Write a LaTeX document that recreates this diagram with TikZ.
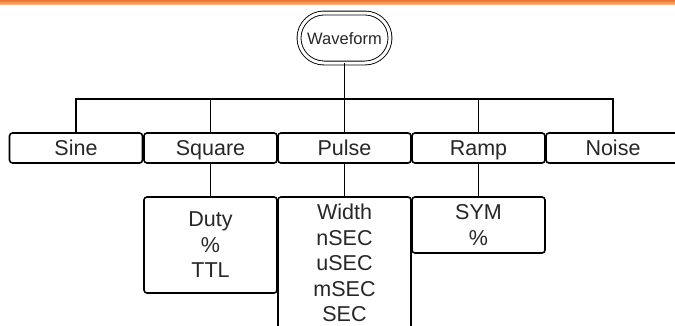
\documentclass[tikz,border=0pt]{standalone}
\usepackage{fontspec}
\setmainfont{Liberation Sans}
\definecolor{barTop}{HTML}{EC7430}
\definecolor{barBot}{HTML}{F8B07A}
\begin{document}
\begin{tikzpicture}[x=1pt,y=-1pt,
  box/.style={draw=black, line width=1.6pt, rounded corners=3pt, minimum width=133pt, inner sep=0pt, font=\fontsize{21.5}{25.5}\selectfont, align=center, text=black!85},
  rowbox/.style={box, minimum height=30pt, text height=16pt, text depth=1pt},
  wire/.style={draw=black, line width=1.6pt},
  pill/.style={draw=black, line width=0.9pt, double=white, double distance=3pt, rounded corners=25pt, minimum width=91pt, minimum height=50pt, inner sep=0pt, text height=12.5pt, text depth=0.5pt, font=\fontsize{16.5}{20}\selectfont, text=black!85}]
\useasboundingbox (0,0) rectangle (675,325);
\clip (0,0) rectangle (675,325);
\shade[top color=barTop, bottom color=barBot] (0,0) rectangle (675,4);
\node[pill] (wf) at (344.5,38) {Waveform};
\node[rowbox] (sine) at (76,148) {Sine};
\node[rowbox] (square) at (210.5,148) {Square};
\node[rowbox] (pulse) at (344.5,148) {Pulse};
\node[rowbox] (ramp) at (478.5,148) {Ramp};
\node[rowbox, minimum width=134pt] (noise) at (613,148) {Noise};
\coordinate (bus) at (344.5,99);
\node[box, minimum height=96pt] (duty) at (210.5,245) {Duty\\\%\\TTL};
\node[box, minimum height=132pt] (width) at (344.5,263) {Width\\nSEC\\uSEC\\mSEC\\SEC};
\node[box, minimum height=56pt] (sym) at (478.5,225) {SYM\\\%};
\draw[wire] (wf.south) -- (pulse.north);
\draw[wire] (sine.north) |- (bus) -| (noise.north);
\draw[wire] (square.north) -- (square.north |- bus);
\draw[wire] (ramp.north) -- (ramp.north |- bus);
\draw[wire] (square.south) -- (duty.north);
\draw[wire] (pulse.south) -- (width.north);
\draw[wire] (ramp.south) -- (sym.north);
\end{tikzpicture}
\end{document}
